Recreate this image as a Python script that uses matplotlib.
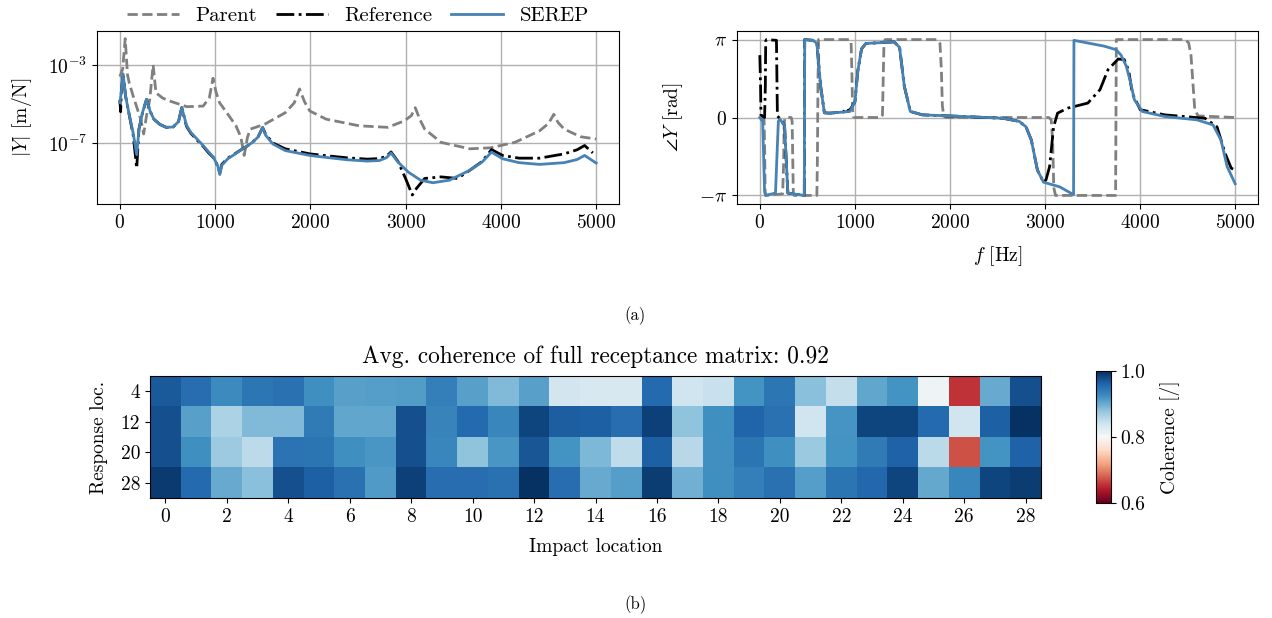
import numpy as np
import matplotlib
matplotlib.use("Agg")
import matplotlib.pyplot as plt
from matplotlib.ticker import FixedLocator, NullLocator, FixedFormatter

# ---------------- data: magnitude (log10 of |Y| in m/N) ----------------
serep_mag_f = [0, 15, 34, 60, 100, 140, 177, 200, 240, 280, 320, 357, 420, 487, 560, 616, 650,
               700, 745, 810, 874, 930, 982, 1030, 1049, 1070, 1133, 1200, 1262, 1330, 1391, 1450, 1499,
               1530, 1606, 1736, 1994, 2200, 2381, 2597, 2726, 2800, 2847, 2920, 3027, 3157, 3286,
               3458, 3674, 3803, 3902, 4018, 4190, 4406, 4664, 4800, 4879, 5000]
serep_mag = [-4.94, -4.4, -3.46, -4.6, -5.6, -6.5, -7.6, -6.3, -5.4, -4.77, -5.4, -5.78, -6.05, -6.2, -6.18, -5.9, -5.19,
             -6.1, -6.46, -6.8, -7.13, -7.45, -7.73, -8.2, -8.62, -8.15, -7.81, -7.6, -7.39, -7.18, -6.97, -6.7, -6.21,
             -6.6, -7.05, -7.39, -7.64, -7.76, -7.86, -7.93, -7.9, -7.75, -7.51, -7.98, -8.49, -8.91, -9.04,
             -8.91, -8.4, -7.98, -7.47, -7.81, -8.01, -8.1, -8.01, -7.85, -7.64, -8.03]

ref_mag_f = [0, 8, 15, 34, 60, 100, 140, 177, 200, 240, 280, 320, 357, 420, 487, 560, 616, 650,
             700, 745, 810, 874, 930, 982, 1030, 1049, 1070, 1133, 1200, 1262, 1330, 1391, 1450, 1499,
             1530, 1606, 1736, 1994, 2200, 2381, 2597, 2726, 2800, 2847, 2920, 3006, 3070, 3114, 3200,
             3372, 3544, 3674, 3803, 3902, 4018, 4190, 4406, 4664, 4800, 4879, 4965]
ref_mag = [-4.8, -5.4, -4.4, -3.46, -4.6, -5.6, -6.6, -8.3, -6.3, -5.4, -4.77, -5.4, -5.78, -6.05, -6.2, -6.18, -5.9, -5.19,
           -6.15, -6.5, -6.85, -7.17, -7.5, -7.75, -8.2, -8.55, -8.1, -7.78, -7.58, -7.38, -7.18, -6.97, -6.7, -6.21,
           -6.55, -7.0, -7.3, -7.56, -7.67, -7.76, -7.83, -7.8, -7.68, -7.46, -7.95, -8.9, -9.67, -9.33, -8.82,
           -8.74, -8.82, -8.4, -7.95, -7.34, -7.64, -7.78, -7.78, -7.56, -7.35, -7.13, -7.51]

parent_mag_f = [0, 30, 56, 80, 99, 140, 185, 220, 250, 280, 314, 349, 379, 450, 530, 702, 874, 939, 978,
                1010, 1047, 1130, 1219, 1270, 1305, 1340, 1370, 1520, 1736, 1830, 1886, 1940, 1994, 2166,
                2511, 2812, 2985, 3060, 3101, 3150, 3200, 3372, 3674, 3889, 4147, 4406, 4500, 4556,
                4600, 4664, 4836, 5000]
parent_mag = [-3.6, -3.2, -1.65, -3.5, -3.93, -4.6, -5.28, -5.8, -6.54, -5.6, -4.77, -3.0, -4.43, -4.7, -4.86, -5.14, -5.11,
              -4.69, -3.68, -4.4, -4.94, -5.5, -6.12, -6.7, -7.64, -6.7, -6.29, -6.04, -5.45, -4.95, -4.23, -4.9,
              -5.36, -5.78, -6.12, -6.2, -5.87, -5.6, -5.19, -5.8, -6.29, -6.97, -7.3, -7.25, -6.97, -6.38, -6.0, -5.53,
              -5.95, -6.29, -6.68, -6.8]

# ---------------- data: phase (in units of pi) ----------------
serep_ph_f = [0, 30, 40, 50, 60, 165, 180, 195, 210, 260, 280, 295, 468, 470, 472, 560, 600, 640, 679,
              734, 946, 1000, 1031, 1070, 1116, 1413, 1470, 1520, 1583, 1710, 2135, 2560, 2729, 2800, 2856,
              2920, 2984, 3154, 3300, 3302, 3304, 3621, 3748, 3800, 3854, 3900, 3939, 4024, 4257, 4597, 4767,
              4851, 4915, 5000]
serep_ph = [0.0, -0.05, -0.5, -0.95, -1.0, -0.97, -0.5, -0.05, -0.02, -0.1, -0.6, -0.97, -1.0, 0.0, 1.0, 0.99, 0.95, 0.4, 0.06,
            0.056, 0.077, 0.2, 0.6, 0.88, 0.95, 0.97, 0.9, 0.4, 0.077, 0.034, 0.013, -0.01, -0.05, -0.12, -0.29,
            -0.675, -0.83, -0.89, -0.99, 0.0, 0.99, 0.916, 0.87, 0.8, 0.66, 0.45, 0.23, 0.077, 0.013, -0.03, -0.095,
            -0.29, -0.63, -0.85]

ref_ph_f = [0, 8, 12, 50, 58, 62, 70, 175, 180, 185, 200, 260, 280, 295, 468, 470, 472, 560, 600, 640, 679,
            734, 880, 904, 930, 960, 1000, 1031, 1070, 1116, 1413, 1470, 1520, 1583, 1710, 2135, 2560, 2729, 2800,
            2856, 2920, 2984, 3010, 3048, 3090, 3132, 3238, 3450, 3578, 3663, 3769, 3833, 3880, 3918, 4002,
            4257, 4682, 4809, 4894, 4958, 5000]
ref_ph = [0.8, 0.4, 0.03, 0.0, 0.4, 0.98, 1.0, 0.99, 0.5, 0.02, 0.0, -0.1, -0.6, -0.97, -1.0, 0.0, 1.0, 0.99, 0.95, 0.4, 0.06,
          0.056, 0.07, 0.12, 0.08, 0.12, 0.2, 0.6, 0.88, 0.95, 0.97, 0.9, 0.4, 0.077, 0.034, 0.013, -0.01, -0.05, -0.12,
          -0.29, -0.675, -0.83, -0.8, -0.63, -0.12, 0.056, 0.12, 0.185, 0.357, 0.615, 0.75, 0.744, 0.6, 0.31, 0.1,
          0.034, -0.01, -0.12, -0.46, -0.65, -0.675]

parent_ph_f = [0, 45, 52, 56, 62, 70, 240, 250, 256, 262, 275, 330, 340, 346, 352, 360, 600, 606, 612, 618,
               940, 960, 968, 976, 984, 1000, 1270, 1290, 1298, 1306, 1320, 1860, 1895, 1910, 1920, 1935, 1960,
               3040, 3065, 3080, 3092, 3110, 3742, 3746, 3750, 4470, 4510, 4535, 4555, 4575, 4610, 5000]
parent_ph = [0.0, -0.03, -0.5, -0.95, -1.0, -1.0, -0.98, -0.6, -0.1, -0.02, 0.0, 0.0, -0.05, -0.5, -0.95, -1.0, -1.0, -0.5, 0.5, 1.0,
             1.0, 0.97, 0.6, 0.1, 0.01, 0.0, 0.0, 0.03, 0.5, 0.97, 1.0, 1.0, 0.95, 0.6, 0.15, 0.02, 0.0,
             0.0, -0.03, -0.3, -0.9, -1.0, -1.0, 0.0, 1.0, 1.0, 0.96, 0.8, 0.45, 0.1, 0.02, 0.0]

# ---------------- data: coherence matrix ----------------
impact_labels = list(range(0, 29))
response_labels = ["4", "12", "20", "28"]
coh_row4 = [0.968, 0.952, 0.928, 0.944, 0.949, 0.923, 0.908, 0.910, 0.912, 0.936, 0.908, 0.888, 0.908, 0.836,
            0.832, 0.832, 0.955, 0.840, 0.844, 0.920, 0.944, 0.884, 0.848, 0.904, 0.920, 0.808, 0.656, 0.900, 0.976]
coh_row12 = [0.976, 0.908, 0.864, 0.888, 0.888, 0.942, 0.904, 0.904, 0.976, 0.933, 0.955, 0.930, 0.984, 0.965,
             0.963, 0.952, 0.987, 0.880, 0.923, 0.960, 0.949, 0.840, 0.918, 0.984, 0.984, 0.955, 0.840, 0.963, 0.997]
coh_row20 = [0.976, 0.923, 0.872, 0.852, 0.947, 0.946, 0.923, 0.916, 0.976, 0.931, 0.880, 0.917, 0.971, 0.920,
             0.890, 0.850, 0.963, 0.856, 0.922, 0.946, 0.923, 0.874, 0.919, 0.941, 0.962, 0.854, 0.672, 0.920, 0.962]
coh_row28 = [0.992, 0.955, 0.900, 0.884, 0.976, 0.963, 0.949, 0.914, 0.987, 0.952, 0.952, 0.949, 0.997, 0.952,
             0.901, 0.910, 0.990, 0.896, 0.923, 0.936, 0.949, 0.910, 0.946, 0.957, 0.984, 0.902, 0.931, 0.984, 0.990]
avg_coherence_text = "0.92"

# ---------------- style ----------------
plt.rcParams.update({
    "font.family": "serif",
    "font.serif": ["cmr10"],
    "mathtext.fontset": "cm",
    "axes.formatter.use_mathtext": True,
    "font.size": 14,
    "axes.unicode_minus": True,
})

C_PARENT = "#808080"
C_REF = "black"
C_SEREP = "#4682b4"
LW = 2.0

fig = plt.figure(figsize=(12.72, 6.18), dpi=100)

W, H = 1272.0, 618.0
def rect(x0, y0, x1, y1):
    return [x0 / W, 1 - y1 / H, (x1 - x0) / W, (y1 - y0) / H]

# ---- magnitude ----
ax1 = fig.add_axes(rect(97, 31, 619, 204))
l_p, = ax1.plot(parent_mag_f, np.power(10.0, parent_mag), ls="--", color=C_PARENT, lw=LW, label="Parent")
l_r, = ax1.plot(ref_mag_f, np.power(10.0, ref_mag), ls="-.", color=C_REF, lw=LW, label="Reference")
l_s, = ax1.plot(serep_mag_f, np.power(10.0, serep_mag), ls="-", color=C_SEREP, lw=LW, label="SEREP")
ax1.set_yscale("log")
ax1.set_xlim(-240, 5240)
ax1.set_ylim(10 ** -10.13, 10 ** -1.26)
ax1.yaxis.set_major_locator(FixedLocator([1e-3, 1e-7]))
ax1.yaxis.set_minor_locator(NullLocator())
ax1.set_xticks([0, 1000, 2000, 3000, 4000, 5000])
ax1.set_ylabel(r"$|Y|$ [m/N]", labelpad=10)
ax1.grid(True, color="#b0b0b0", lw=1.0)
ax1.legend(handles=[l_p, l_r, l_s], loc="lower center", bbox_to_anchor=(0.5, 0.985), ncol=3,
           frameon=False, handlelength=2.5, columnspacing=0.9, borderaxespad=0.0, handletextpad=0.8,
           fontsize=15)

# ---- phase ----
ax2 = fig.add_axes(rect(737, 31, 1258, 204))
ax2.plot(parent_ph_f, np.pi * np.array(parent_ph), ls="--", color=C_PARENT, lw=LW)
ax2.plot(ref_ph_f, np.pi * np.array(ref_ph), ls="-.", color=C_REF, lw=LW)
ax2.plot(serep_ph_f, np.pi * np.array(serep_ph), ls="-", color=C_SEREP, lw=LW)
ax2.set_xlim(-240, 5240)
ax2.set_ylim(-1.11 * np.pi, 1.11 * np.pi)
ax2.set_yticks([-np.pi, 0, np.pi])
ax2.set_yticklabels([r"$-\pi$", r"$0$", r"$\pi$"])
ax2.set_xticks([0, 1000, 2000, 3000, 4000, 5000])
ax2.set_ylabel(r"$\angle Y$ [rad]", labelpad=10)
ax2.set_xlabel(r"$f$ [Hz]", labelpad=9)
ax2.grid(True, color="#b0b0b0", lw=1.0)

fig.text(635 / W, 1 - 316 / H, "(a)", ha="center", va="center", fontsize=12)

# ---- coherence heatmap ----
coh = np.array([coh_row4, coh_row12, coh_row20, coh_row28])
ax3 = fig.add_axes(rect(150, 376, 1041, 498))
im = ax3.imshow(coh, cmap="RdBu", vmin=0.6, vmax=1.0, aspect="auto", interpolation="nearest")
ax3.set_xticks(impact_labels[::2])
ax3.set_xticklabels([str(v) for v in impact_labels[::2]])
ax3.set_yticks(range(len(response_labels)))
ax3.set_yticklabels(response_labels)
ax3.set_xlabel("Impact location", labelpad=9)
ax3.set_ylabel("Response loc.", labelpad=9)
ax3.set_title("Avg. coherence of full receptance matrix: " + avg_coherence_text, pad=9)

cax = fig.add_axes(rect(1096, 371, 1111, 503))
cb = fig.colorbar(im, cax=cax, ticks=[0.6, 0.8, 1.0])
cb.ax.yaxis.set_major_formatter(FixedFormatter(["0.6", "0.8", "1.0"]))
cb.set_label("Coherence [/]", labelpad=10)

fig.text(635 / W, 1 - 605 / H, "(b)", ha="center", va="center", fontsize=12)

fig.savefig("out.png", dpi=100)
